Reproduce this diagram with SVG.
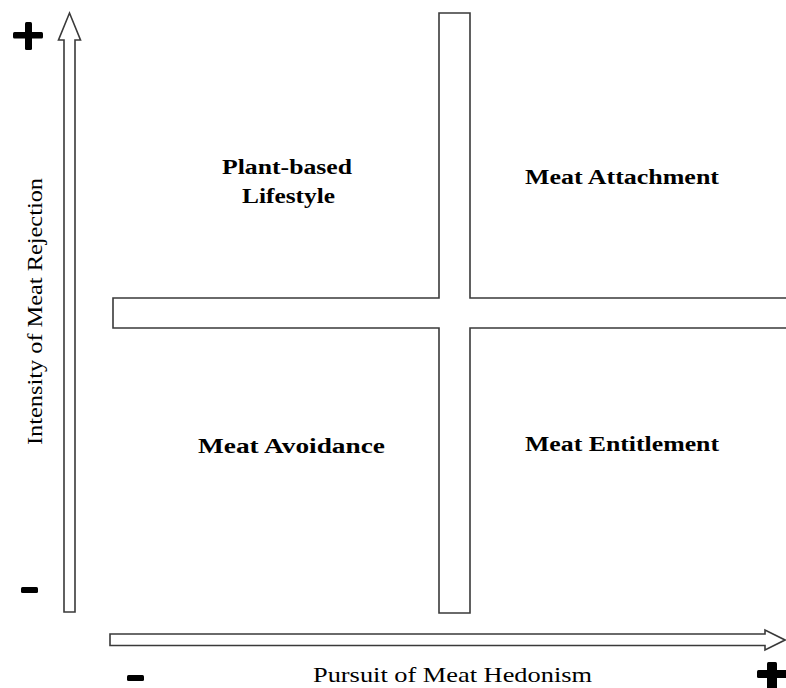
<svg xmlns="http://www.w3.org/2000/svg" width="786" height="688" viewBox="0 0 786 688">
<style>
.shape{fill:#fff;stroke:#3a3a3a;stroke-width:1.6;stroke-linejoin:miter}
.sign{fill:#000}
.q{font-family:"Liberation Serif","Times New Roman",serif;font-weight:bold;font-size:20px;fill:#000}
.ax{font-family:"Liberation Serif","Times New Roman",serif;font-size:21px;fill:#000}
</style>
<rect width="786" height="688" fill="#fff"/>
<g id="cross">
<polygon class="shape" points="439,13 470,13 470,298 790,298 790,328 470,328 470,613 439,613 439,328 113,328 113,298 439,298"/>
</g>
<g id="connectors">
<polygon id="y-axis" class="shape" points="64,612 75,612 75,40 80.5,40 69.5,13 58.5,40 64,40"/>
<polygon id="x-axis" class="shape" points="110,634 765,634 765,630 785,640 765,650 765,645.5 110,645.5"/>
</g>
<g id="signs">
<rect class="sign" x="13" y="32" width="30" height="6.5" rx="1.5"/>
<rect class="sign" x="25" y="22" width="7" height="28" rx="1.5"/>
<rect class="sign" x="21" y="587" width="17" height="6" rx="1.5"/>
<rect class="sign" x="127" y="675" width="17" height="6" rx="1.5"/>
<rect class="sign" x="757" y="670" width="30" height="8" rx="1.5"/>
<rect class="sign" x="767" y="662" width="10" height="30" rx="1.5"/>
</g>
<g id="plant-based">
<text class="q" x="222" y="174" textLength="130" lengthAdjust="spacingAndGlyphs">Plant-based</text>
<text class="q" x="242" y="203" textLength="93" lengthAdjust="spacingAndGlyphs">Lifestyle</text>
</g>
<g id="meat-attachment">
<text class="q" x="525" y="184" textLength="194" lengthAdjust="spacingAndGlyphs">Meat Attachment</text>
</g>
<g id="meat-avoidance">
<text class="q" x="198" y="453" textLength="187" lengthAdjust="spacingAndGlyphs">Meat Avoidance</text>
</g>
<g id="meat-entitlement">
<text class="q" x="525" y="451" textLength="194" lengthAdjust="spacingAndGlyphs">Meat Entitlement</text>
</g>
<g id="axis-labels">
<text class="ax" x="313" y="682" textLength="279" lengthAdjust="spacingAndGlyphs">Pursuit of Meat Hedonism</text>
<text class="ax" transform="translate(42,445) rotate(-90)" x="0" y="0" textLength="267" lengthAdjust="spacingAndGlyphs">Intensity of Meat Rejection</text>
</g>
</svg>
